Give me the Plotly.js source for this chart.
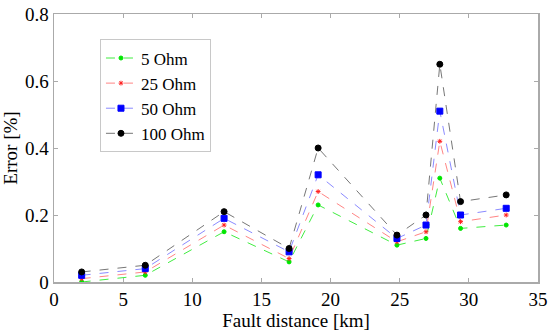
<!DOCTYPE html>
<html><head><meta charset="utf-8">
<script src="https://cdn.plot.ly/plotly-3.0.1.min.js"></script>
<style>html,body{margin:0;padding:0;background:#fff;}#chart{width:550px;height:332px;}</style>
</head><body><div id="chart"></div>
<script>
const distances = [2.0, 6.6, 12.3, 17.0, 19.1, 24.8, 26.9, 27.9, 29.4, 32.7];
const err5   = [0.00, 0.02, 0.15, 0.06, 0.23, 0.11, 0.13, 0.31, 0.16, 0.17];
const err25  = [0.01, 0.03, 0.17, 0.07, 0.27, 0.12, 0.15, 0.42, 0.18, 0.20];
const err50  = [0.02, 0.04, 0.19, 0.09, 0.32, 0.13, 0.17, 0.51, 0.20, 0.22];
const err100 = [0.03, 0.05, 0.21, 0.10, 0.40, 0.14, 0.20, 0.65, 0.24, 0.26];
const names = ['5 Ohm', '25 Ohm', '50 Ohm', '100 Ohm'];
const xTicks = [0, 5, 10, 15, 20, 25, 30, 35];
const yTicks = [0, 0.2, 0.4, 0.6, 0.8];

const FONT = 'Liberation Serif';
const styles = [
  {line:'rgba(0,230,0,0.75)', marker:'#00e600', symbol:'circle', size:4},
  {line:'rgba(255,80,80,0.7)', marker:'#ff2020', symbol:'asterisk-open', size:4},
  {line:'rgba(60,60,255,0.6)', marker:'#0000ff', symbol:'square', size:6},
  {line:'rgba(60,60,60,0.7)', marker:'#000000', symbol:'circle', size:6}
];
const series = [err5, err25, err50, err100];
const traces = series.map((ys, i) => ({
  x: distances, y: ys, name: names[i], type: 'scatter', mode: 'lines+markers',
  line: {color: styles[i].line, dash: 'dash', width: 1},
  marker: {color: styles[i].marker, symbol: styles[i].symbol, size: styles[i].size,
           line: {color: styles[i].marker, width: 1}}
}));

const axisCommon = {
  showgrid: false, zeroline: false, showline: true, mirror: 'ticks',
  linecolor: '#aaaaaa', linewidth: 1.5, ticks: 'inside', ticklen: 4, tickcolor: '#aaaaaa',
  tickfont: {family: FONT, size: 19, color: '#000'}
};
const layout = {
  width: 550, height: 332,
  margin: {l: 54, r: 12, t: 14, b: 50},
  paper_bgcolor: '#fff', plot_bgcolor: '#fff',
  showlegend: true,
  legend: {x: 0.095, y: 0.905, xanchor: 'left', yanchor: 'top',
           bordercolor: '#c8c8c8', borderwidth: 1, bgcolor: '#fff',
           font: {family: FONT, size: 17, color: '#000'},
           itemwidth: 30, tracegroupgap: 0},
  xaxis: Object.assign({}, axisCommon, {
    range: [0, 35], tickvals: xTicks, ticktext: xTicks.map(String),
    title: {text: 'Fault distance [km]', standoff: 0,
            font: {family: FONT, size: 19, color: '#000'}}
  }),
  yaxis: Object.assign({}, axisCommon, {
    range: [0, 0.8], tickvals: yTicks, ticktext: yTicks.map(v => v === 0 ? '0' : v.toFixed(1)),
    title: {text: 'Error [%]', standoff: 2,
            font: {family: FONT, size: 19, color: '#000'}}
  })
};
Plotly.newPlot('chart', traces, layout, {displayModeBar: false, staticPlot: true});
</script>
</body></html>
